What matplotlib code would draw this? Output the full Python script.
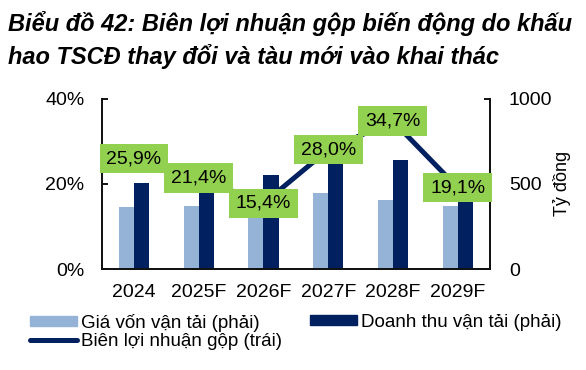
import matplotlib
matplotlib.use("Agg")
import matplotlib.pyplot as plt
import numpy as np
from matplotlib.lines import Line2D
from matplotlib.patches import Patch
from matplotlib.path import Path

plt.rcParams['font.family'] = ['Liberation Sans', 'DejaVu Sans']

categories = ["2024", "2025F", "2026F", "2027F", "2028F", "2029F"]
cost = [365, 371, 466, 443, 406, 371]          # Giá vốn vận tải (phải), tỷ đồng
revenue = [502, 472, 551, 618, 639, 459]       # Doanh thu vận tải (phải), tỷ đồng
margin = [25.9, 21.4, 15.4, 28.0, 34.7, 19.1]  # Biên lợi nhuận gộp (trái), %
margin_labels = ["25,9%", "21,4%", "15,4%", "28,0%", "34,7%", "19,1%"]

light = "#95B3D7"
dark = "#002060"
green = "#92D050"


def label_box(x0, y0, width, height, mutation_size):
    px = 0.35 * mutation_size
    py = 0.32 * mutation_size
    x0, y0 = x0 - px, y0 - py
    x1, y1 = x0 + width + 2 * px, y0 + height + 2 * py
    return Path([(x0, y0), (x1, y0), (x1, y1), (x0, y1), (x0, y0)], closed=True)


fig = plt.figure(figsize=(5.86, 3.70), dpi=100)
L, R, T, B = 101.7, 490.0, 98.5, 269.0
ax = fig.add_axes([L/586, 1 - B/370, (R-L)/586, (B-T)/370])
ax2 = ax.twinx()
ax.set_zorder(ax2.get_zorder() + 1)
ax.patch.set_visible(False)

x = np.arange(len(categories))
w = 0.232
ax2.bar(x - w/2, cost, width=w, color=light, zorder=2)
ax2.bar(x + w/2, revenue, width=w, color=dark, zorder=2)
ax2.set_ylim(0, 1000)
ax2.set_yticks([0, 500, 1000])
ax2.set_ylabel("Tỷ đồng", fontsize=13)
ax2.yaxis.label.set_va('center')
ax2.yaxis.set_label_coords((562 - L) / (R - L), 0.5)

ax.plot(x, margin, color=dark, lw=3.6, solid_capstyle='round', zorder=3)
for xi, m, lab in zip(x, margin, margin_labels):
    ax.text(xi, m, lab, ha='center', va='center', fontsize=14, zorder=5,
            bbox=dict(boxstyle=label_box, fc=green, ec='none'))
ax.set_ylim(0, 40)
ax.set_yticks([0, 20, 40])
ax.set_yticklabels(["0%", "20%", "40%"])
ax.set_xlim(-0.5, 5.5)
ax.set_xticks(x)
ax.set_xticklabels(categories)

for a in (ax, ax2):
    a.spines['top'].set_visible(False)
    for s in ('left', 'right', 'bottom'):
        a.spines[s].set_linewidth(1.3)
        a.spines[s].set_color('#111111')
ax.tick_params(axis='y', direction='in', length=4, width=1.3, labelsize=14, pad=12.5)
ax2.tick_params(axis='y', direction='in', length=4, width=1.3, labelsize=14, pad=13.5)
ax.tick_params(axis='x', length=0, labelsize=14, pad=10.5)

h_cost = Patch(color=light)
h_margin = Line2D([0], [0], color=dark, lw=3.6, solid_capstyle='round')
h_rev = Patch(color=dark)
common = dict(loc='upper left', frameon=False, fontsize=13.5, handlelength=2.49,
              handleheight=0.46, handletextpad=0.23, labelspacing=0.05,
              borderaxespad=0, borderpad=0)
leg1 = fig.legend([h_cost, h_margin], ["Giá vốn vận tải (phải)", "Biên lợi nhuận gộp (trái)"],
                  bbox_to_anchor=(30/586, 1 - 314/370), **common)
leg2 = fig.legend([h_rev], ["Doanh thu vận tải (phải)"],
                  bbox_to_anchor=(310/586, 1 - 314/370), **common)

fig.text(8/586, 1 - 11/370, "Biểu đồ 42: Biên lợi nhuận gộp biến động do khấu\nhao TSCĐ thay đổi và tàu mới vào khai thác",
         ha='left', va='top', fontsize=17, fontweight='bold', fontstyle='italic', linespacing=1.4)

fig.savefig("out.png", dpi=100)
